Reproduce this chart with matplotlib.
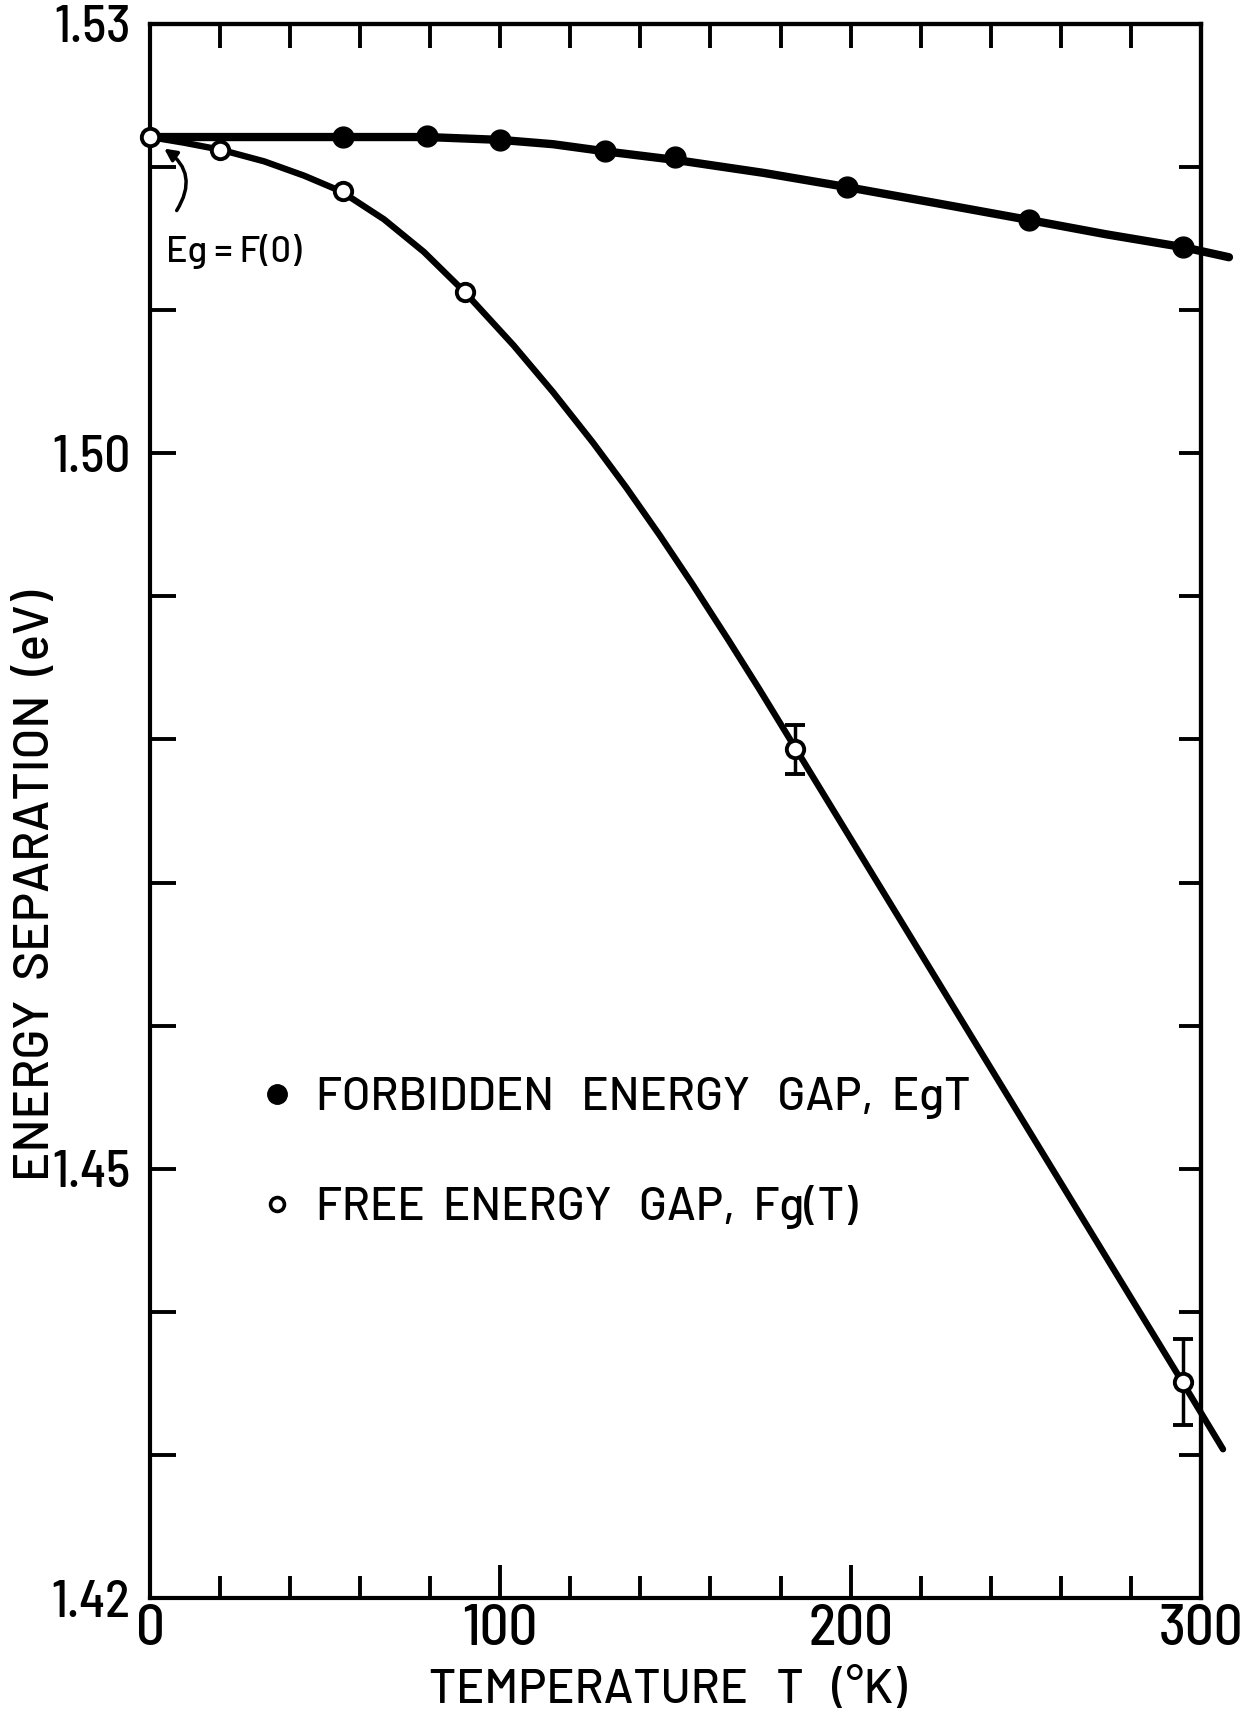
import matplotlib
matplotlib.use("Agg")
import matplotlib.pyplot as plt
from matplotlib.lines import Line2D
from matplotlib.ticker import FixedLocator, MultipleLocator, NullFormatter
from matplotlib import font_manager as fm

# ---------------- data ----------------
# Forbidden energy gap Eg(T), filled circles
eg_T = [55, 79, 100, 130, 150, 199, 251, 295]
eg_E = [1.5221, 1.5222, 1.5219, 1.5211, 1.5207, 1.5186, 1.5163, 1.5144]

# Free energy gap Fg(T), open circles
fg_T = [0, 20, 55, 90, 184, 295]
fg_E = [1.5221, 1.5212, 1.5183, 1.5113, 1.4793, 1.4351]
fg_err = [0, 0, 0, 0, 0.0017, 0.0030]

# hand-drawn smooth curves, sampled along the drawn line
eg_curve_T = [0, 55, 79, 100, 115, 130, 150, 175, 199, 224, 251, 273, 295, 308]
eg_curve_E = [1.5221, 1.5221, 1.5221, 1.5219, 1.5216, 1.5211, 1.5205, 1.5196,
              1.5186, 1.5175, 1.5163, 1.5153, 1.5144, 1.5137]

fg_curve_T = [0, 9.8, 20.4, 32.6, 44.0, 54.6, 66.8, 78.2, 89.6, 103.8, 115.1,
              126.5, 135.8, 145.5, 154.8, 165.3, 173.8, 184.5, 294.7, 306.3]
fg_curve_E = [1.5221, 1.5217, 1.5212, 1.5204, 1.5194, 1.5183, 1.51635, 1.51407,
              1.51133, 1.50754, 1.50426, 1.50073, 1.49766, 1.49427, 1.49087,
              1.48688, 1.48357, 1.47929, 1.4351, 1.4304]

x_major = [0, 100, 200, 300]
y_labeled = [1.42, 1.45, 1.50, 1.53]
y_label_text = ["1.42", "1.45", "1.50", "1.53"]

# ---------------- fonts ----------------
names = {f.name for f in fm.fontManager.ttflist}
fam_text = "Barlow" if "Barlow" in names else "DejaVu Sans"
fam_num = "Barlow Semi Condensed" if "Barlow Semi Condensed" in names else "DejaVu Sans"
plt.rcParams["font.family"] = [fam_text, "DejaVu Sans"]
plt.rcParams["font.weight"] = "medium"

fig = plt.figure(figsize=(12.57, 17.13), dpi=100)
ax = fig.add_axes([0.1193, 0.0671, 0.8361, 0.9189])
ax.set_xlim(0, 300)
ax.set_ylim(1.42, 1.53)

for s in ax.spines.values():
    s.set_linewidth(3.0)

# curves
ax.plot(eg_curve_T, eg_curve_E, color="black", lw=6, solid_capstyle="round",
        solid_joinstyle="round", clip_on=False, zorder=3)
ax.plot(fg_curve_T, fg_curve_E, color="black", lw=4.6, solid_capstyle="round",
        solid_joinstyle="round", clip_on=False, zorder=3)

# points
ax.plot(eg_T, eg_E, "o", color="black", ms=15, zorder=5)
ax.errorbar(fg_T[4:], fg_E[4:], yerr=fg_err[4:], fmt="none", ecolor="black",
            elinewidth=2.5, capsize=7, capthick=2.8, zorder=4)
ax.plot(fg_T, fg_E, "o", mfc="white", mec="black", mew=2.8, ms=12.5,
        zorder=6, clip_on=False)

# ticks
ax.xaxis.set_major_locator(FixedLocator(x_major))
ax.xaxis.set_minor_locator(MultipleLocator(20))
ax.set_xticklabels([str(v) for v in x_major], family=[fam_num, "DejaVu Sans"])
ax.yaxis.set_major_locator(FixedLocator(y_labeled))
ax.yaxis.set_minor_locator(MultipleLocator(0.01))
ax.set_yticklabels(y_label_text, family=[fam_num, "DejaVu Sans"])
ax.tick_params(axis="x", which="major", direction="in", length=24, width=2.8,
               labelsize=41, pad=4)
ax.tick_params(axis="x", which="minor", direction="in", length=16, width=2.8)
ax.tick_params(axis="y", which="both", direction="in", length=19, width=2.8,
               labelsize=37, pad=14)

top = ax.secondary_xaxis("top")
top.xaxis.set_major_locator(MultipleLocator(20))
top.xaxis.set_major_formatter(NullFormatter())
top.tick_params(direction="in", length=17, width=2.8)
top.spines["top"].set_linewidth(3.0)

right = ax.secondary_yaxis("right")
right.yaxis.set_major_locator(MultipleLocator(0.01))
right.yaxis.set_major_formatter(NullFormatter())
right.tick_params(direction="in", length=16, width=2.8)
right.spines["right"].set_linewidth(3.0)

# axis labels
fig.text(37 / 1257, 1 - 885 / 1713, "ENERGY  SEPARATION  (eV)", rotation=90,
         ha="center", va="center", fontsize=35.5)
fig.text(668 / 1257, 1 - 1690 / 1713, "TEMPERATURE   T   (°K)",
         ha="center", va="center", fontsize=34)

# annotation
ax.annotate("", xy=(3.4, 1.5214), xytext=(7.2, 1.5168),
            arrowprops=dict(arrowstyle="-|>", color="black", lw=2.5,
                            connectionstyle="arc3,rad=0.5", mutation_scale=18))
ax.text(4.5, 1.5141, "Eg = F(0)", ha="left", va="center", fontsize=26)

# legend
h1 = Line2D([], [], marker="o", ls="none", color="black", ms=14)
h2 = Line2D([], [], marker="o", ls="none", mfc="white", mec="black", ms=10, mew=2.6)
ax.legend([h1, h2], ["FORBIDDEN   ENERGY   GAP,  EgT", "FREE  ENERGY   GAP,  Fg(T)"],
          loc="upper left", bbox_to_anchor=(0.1075, 0.331), frameon=False,
          fontsize=33, handlelength=0.6, handletextpad=0.55, labelspacing=1.45,
          borderpad=0, borderaxespad=0)

fig.savefig("out.png", dpi=100)
